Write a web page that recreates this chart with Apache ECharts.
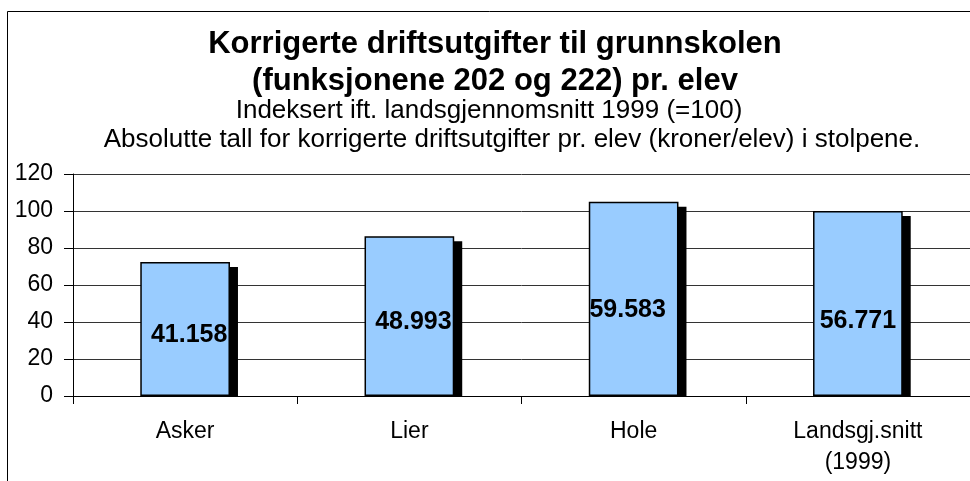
<!DOCTYPE html>
<html>
<head>
<meta charset="utf-8">
<script src="https://cdn.jsdelivr.net/npm/echarts@6/dist/echarts.min.js"></script>
<style>
  html, body { margin: 0; padding: 0; background: #fff; }
  #chart { width: 970px; height: 481px; }
</style>
</head>
<body>
<div id="chart"></div>
<script>
// kategorier og verdier (indeks, landsgjennomsnitt 1999 = 100)
const categories = ['Asker', 'Lier', 'Hole', 'Landsgj.snitt\n(1999)'];
const indexValues = [72.5, 86.3, 105.0, 100];
// kroner pr. elev, vises i stolpene
const kronerLabels = ['41.158', '48.993', '59.583', '56.771'];
const yTicks = [0, 20, 40, 60, 80, 100, 120];

const FONT = '"Liberation Sans", Arial, sans-serif';
const chart = echarts.init(document.getElementById('chart'));

// litt forskjøvne tall inne i stolpene, som i originalen
const labelOffsets = [[4, 6], [4, 6], [-6, 11], [0, 18]];

const option = {
  backgroundColor: '#fff',
  animation: false,
  grid: { left: 73, right: -7, top: 174, bottom: 85 },
  graphic: [
    {
      type: 'rect',
      shape: { x: 7.5, y: 11.5, width: 1000, height: 500 },
      style: { fill: 'none', stroke: '#000', lineWidth: 1 },
      z: -1
    },
    {
      type: 'text', x: 495, y: 44,
      style: { text: 'Korrigerte driftsutgifter til grunnskolen', font: 'bold 31px ' + FONT,
               fill: '#000', textAlign: 'center', textVerticalAlign: 'middle' }
    },
    {
      type: 'text', x: 495, y: 81,
      style: { text: '(funksjonene 202 og 222) pr. elev', font: 'bold 31px ' + FONT,
               fill: '#000', textAlign: 'center', textVerticalAlign: 'middle' }
    },
    {
      type: 'text', x: 489, y: 111,
      style: { text: 'Indeksert ift. landsgjennomsnitt 1999 (=100)', font: '26px ' + FONT,
               fill: '#000', textAlign: 'center', textVerticalAlign: 'middle' }
    },
    {
      type: 'text', x: 512, y: 140,
      style: { text: 'Absolutte tall for korrigerte driftsutgifter pr. elev (kroner/elev) i stolpene.', font: '26px ' + FONT,
               fill: '#000', textAlign: 'center', textVerticalAlign: 'middle' }
    }
  ],
  xAxis: {
    type: 'category',
    data: categories,
    axisLine: { lineStyle: { color: '#000', width: 1 } },
    axisTick: { show: true, length: 8, lineStyle: { color: '#000' } },
    axisLabel: { color: '#000', fontFamily: FONT, fontSize: 23, lineHeight: 31, margin: 20 }
  },
  yAxis: {
    type: 'value',
    min: yTicks[0],
    max: yTicks[yTicks.length - 1],
    interval: 20,
    axisLine: { show: true, lineStyle: { color: '#000', width: 1 } },
    axisTick: { show: true, length: 9, lineStyle: { color: '#000' } },
    axisLabel: { color: '#000', fontFamily: FONT, fontSize: 23, margin: 20 },
    splitLine: { lineStyle: { color: '#333', width: 1 } }
  },
  series: [
    {
      // svart skygge bak stolpene
      type: 'custom',
      z: 1,
      data: indexValues.map((v, i) => [i, v]),
      renderItem: function (params, api) {
        const top = api.coord([api.value(0), api.value(1)]);
        const base = api.coord([api.value(0), 0]);
        const w = api.size([1, 0])[0] * 0.4;
        return {
          type: 'rect',
          shape: { x: top[0] - w / 2 + 8, y: top[1] + 5, width: w, height: base[1] - top[1] - 5 },
          style: { fill: '#000' }
        };
      }
    },
    {
      type: 'bar',
      z: 2,
      barWidth: '40%',
      data: indexValues.map((v, i) => ({
        value: v,
        label: { offset: labelOffsets[i] }
      })),
      itemStyle: { color: '#99CCFF', borderColor: '#000', borderWidth: 1.5 },
      label: {
        show: true,
        position: 'inside',
        formatter: p => kronerLabels[p.dataIndex],
        color: '#000',
        fontFamily: FONT,
        fontWeight: 'bold',
        fontSize: 25
      }
    }
  ]
};

chart.setOption(option);
</script>
</body>
</html>
